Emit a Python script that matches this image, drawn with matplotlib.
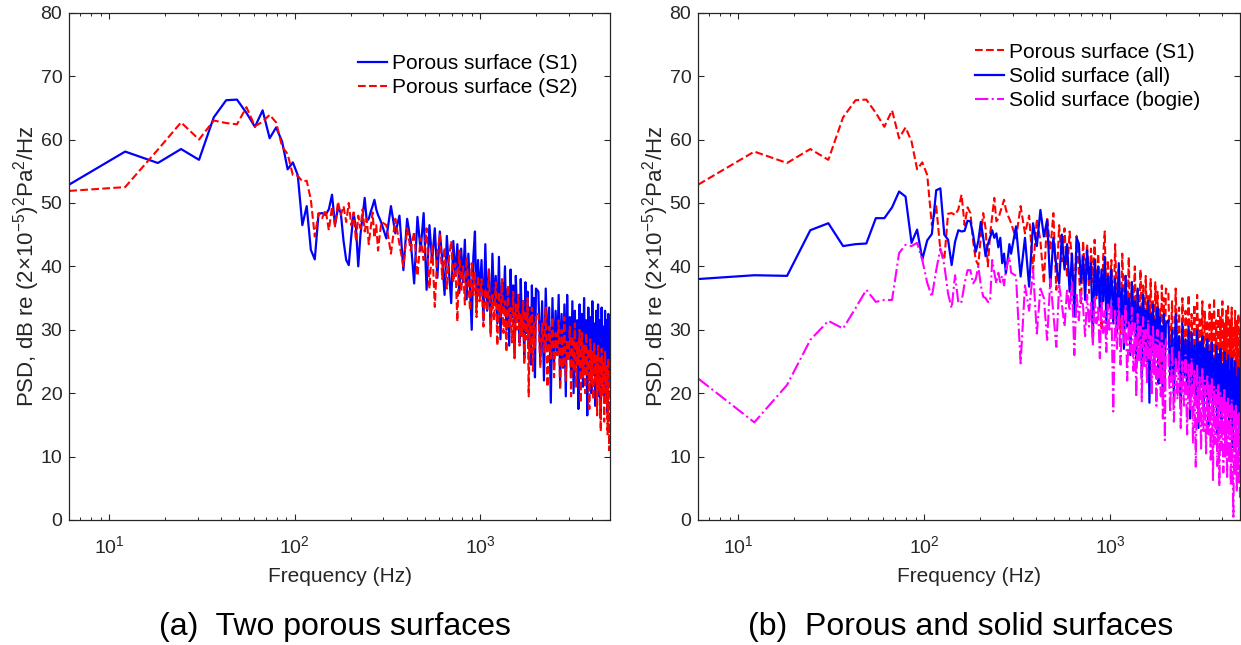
import numpy as np
import matplotlib
matplotlib.use('Agg')
import matplotlib.pyplot as plt

plt.rcParams['font.family'] = ['Liberation Sans', 'DejaVu Sans']
plt.rcParams['mathtext.default'] = 'regular'

DF = 6.1035  # frequency resolution, Hz

# FFT bins: every bin up to ~300 Hz, thinned above that
bins = np.r_[1:49, 51:163:3, 166:327:4, 336:817:8]
freq = bins * DF

# PSD values (dB)
porous_s1 = [
    # bins 1-48
    52.9, 58.1, 56.3, 58.5, 56.8, 63.5, 66.2, 66.3, 64.2, 62.0,
    64.6, 60.2, 61.9, 59.7, 55.3, 56.4, 54.4, 46.5, 49.5, 42.6,
    41.1, 48.3, 48.4, 48.1, 49.0, 51.3, 46.5, 49.3, 48.4, 44.0,
    41.0, 40.2, 44.7, 48.4, 46.0, 40.0, 45.0, 48.0, 50.8, 47.1,
    47.5, 48.6, 49.5, 50.5, 49.0, 48.1, 47.5, 46.8,
    # 311-990 Hz
    44.4, 49.5, 45.2, 48.0, 39.4, 47.5, 44.0, 37.3, 47.8, 42.5,
    48.4, 36.3, 46.5, 40.8, 46.0, 38.2, 45.5, 41.0, 35.5, 44.8,
    39.0, 34.2, 44.0, 38.5, 43.5, 35.8, 42.8, 37.5, 44.2, 34.8,
    42.0, 36.5, 30.0, 41.5, 45.5, 33.5, 41.0, 35.5,
    # 1-2 kHz
    41.0, 31.5, 43.5, 33.0, 39.5, 29.5, 42.0, 34.0, 38.5, 31.0,
    41.5, 28.5, 37.5, 33.5, 40.0, 30.0, 36.5, 27.5, 39.5, 32.0,
    37.0, 26.0, 38.5, 31.5, 35.5, 28.0, 38.0, 30.5, 34.5, 25.5,
    37.5, 29.5, 36.0, 27.0, 33.5, 24.5, 37.0, 29.0, 35.0, 22.5,
    36.5,
    # 2-5 kHz
    36.0, 25.0, 34.5, 22.0, 36.5, 27.0, 33.5, 18.5, 35.0, 24.5,
    33.0, 26.0, 35.5, 21.5, 32.5, 24.0, 34.0, 19.5, 35.5, 25.5,
    32.0, 22.5, 34.5, 20.0, 33.0, 24.5, 31.5, 17.5, 34.0, 23.0,
    32.5, 21.0, 35.0, 24.0, 31.5, 16.5, 33.5, 22.0, 32.0, 20.0,
    34.5, 23.5, 31.0, 18.0, 33.0, 21.5, 34.0, 19.5, 31.5, 16.0,
    33.5, 22.5, 30.5, 18.5, 33.0, 20.5, 31.5, 17.0, 32.5, 21.0,
    29.5,
]

porous_s2 = [
    51.9, 52.5, 58.4, 62.7, 60.0, 63.0, 62.6, 62.4, 65.1, 62.1,
    62.8, 63.9, 62.7, 58.9, 57.7, 54.4, 54.3, 53.4, 53.5, 50.5,
    44.7, 48.4, 47.6, 48.9, 45.7, 49.4, 46.3, 50.2, 48.1, 49.5,
    47.0, 50.0, 46.5, 48.5, 44.0, 48.0, 46.0, 49.0, 45.5, 47.5,
    43.5, 46.0, 48.5, 44.5, 46.5, 42.5, 45.0, 47.0,
    46.5, 42.0, 47.5, 43.5, 40.0, 46.0, 42.5, 45.5, 38.5, 44.5,
    41.0, 46.0, 36.5, 43.5, 33.6, 42.0, 45.0, 38.0, 43.0, 36.5,
    41.5, 44.0, 37.5, 40.5, 31.3, 42.5, 36.0, 40.0, 34.0, 41.5,
    37.5, 33.0, 40.5, 35.5, 39.0, 32.0, 38.5, 34.5,
    38.0, 30.5, 36.5, 33.0, 39.5, 29.0, 35.5, 31.5, 37.5, 27.5,
    36.0, 32.0, 38.0, 29.5, 34.5, 26.5, 37.0, 30.5, 33.5, 28.0,
    36.0, 25.5, 34.0, 30.0, 35.5, 27.5, 32.5, 29.0, 34.5, 24.5,
    33.0, 28.5, 35.0, 19.5, 32.0, 26.5, 33.5, 23.5, 31.0, 27.0,
    32.5,
    32.5, 24.0, 31.0, 26.5, 33.5, 21.0, 30.5, 25.5, 32.0, 22.5,
    29.5, 26.0, 31.5, 20.5, 30.0, 24.0, 32.0, 22.0, 28.5, 25.0,
    30.5, 19.5, 29.0, 23.5, 31.0, 21.0, 28.0, 24.5, 30.0, 18.5,
    29.5, 22.5, 27.5, 20.0, 29.5, 23.0, 27.0, 17.5, 28.5, 21.5,
    26.5, 19.0, 28.0, 22.0, 26.0, 16.5, 27.5, 20.5, 25.5, 14.0,
    27.0, 19.5, 25.0, 15.5, 26.5, 18.5, 24.5, 13.5, 25.5, 11.0,
    23.0,
]

solid_all = [
    38.0, 38.6, 38.5, 45.7, 46.8, 43.2, 43.5, 43.6, 47.6, 47.6,
    49.3, 51.8, 51.0, 43.7, 45.8, 41.1, 44.1, 45.1, 52.0, 52.3,
    45.0, 44.2, 40.2, 43.9, 45.7, 45.5, 45.6, 47.2, 47.1, 45.0,
    42.3, 44.0, 47.0, 44.5, 41.6, 43.5, 44.5, 45.7, 44.5, 45.2,
    43.0, 44.5, 40.5, 42.0, 38.9, 41.0, 43.5, 42.0,
    46.3, 38.4, 44.5, 36.8, 46.8, 43.2, 48.9, 44.7, 47.3, 36.8,
    44.5, 40.0, 37.3, 45.0, 39.5, 43.5, 36.0, 42.0, 32.1, 44.5,
    43.6, 37.5, 41.5, 34.7, 42.5, 38.0, 40.5, 28.4, 41.0, 35.5,
    40.0, 33.0, 39.5, 34.5, 41.5, 31.0, 38.5, 33.5,
    39.5, 31.0, 38.0, 29.5, 40.5, 32.0, 36.5, 27.0, 38.5, 30.5,
    35.0, 26.0, 37.5, 30.0, 34.5, 24.5, 36.5, 28.5, 33.5, 22.5,
    35.5, 27.5, 33.0, 25.0, 34.5, 18.5, 32.5, 26.5, 34.0, 23.5,
    31.5, 27.0, 33.5, 21.5, 32.0, 25.5, 30.5, 20.0, 32.5, 24.5,
    31.0,
    31.5, 22.0, 30.0, 19.5, 32.5, 24.0, 29.0, 17.5, 31.0, 22.5,
    28.5, 20.0, 30.5, 16.0, 29.5, 21.5, 27.5, 18.5, 30.0, 14.5,
    28.0, 21.0, 29.0, 17.0, 27.0, 19.5, 28.5, 15.0, 26.5, 20.5,
    28.0, 16.5, 25.5, 19.0, 27.5, 13.5, 26.0, 18.0, 27.0, 15.5,
    24.5, 18.5, 26.5, 12.5, 25.0, 17.0, 26.0, 14.5, 23.5, 17.5,
    25.5, 11.5, 24.0, 16.0, 25.0, 13.0, 22.5, 15.5, 24.0, 10.5,
    22.0,
]

solid_bogie = [
    22.3, 15.4, 21.3, 28.4, 31.4, 30.2, 33.4, 36.3, 34.4, 34.7,
    34.7, 42.1, 43.4, 43.2, 43.7, 41.0, 37.4, 35.2, 39.4, 42.8,
    40.2, 35.7, 33.4, 38.6, 34.2, 34.4, 37.3, 39.4, 39.4, 37.3,
    38.0, 40.0, 37.0, 35.2, 35.0, 34.4, 34.4, 41.0, 39.0, 37.3,
    39.0, 37.5, 38.5, 37.0, 39.5, 40.5, 41.5, 39.0,
    38.5, 24.7, 37.0, 33.0, 39.5, 29.4, 36.5, 35.0, 28.4, 38.0,
    32.5, 27.3, 37.0, 34.0, 30.5, 36.5, 33.0, 37.5, 26.0, 35.5,
    31.5, 36.0, 33.6, 29.0, 35.5, 30.5, 34.5, 27.5, 35.0, 31.0,
    33.5, 25.5, 34.5, 29.5, 33.0, 26.5, 34.0, 30.0,
    34.5, 17.1, 33.0, 27.0, 35.0, 24.5, 32.5, 28.0, 34.0, 22.0,
    31.5, 26.5, 33.5, 23.5, 31.0, 19.4, 32.5, 25.0, 30.5, 18.7,
    32.0, 24.0, 30.0, 21.5, 31.5, 25.5, 29.0, 20.0, 30.5, 23.0,
    28.5, 18.0, 30.0, 22.5, 28.0, 19.5, 29.5, 16.0, 27.5, 12.6,
    28.5,
    26.5, 17.0, 27.5, 15.5, 25.5, 19.0, 26.5, 14.5, 25.0, 18.0,
    26.0, 13.5, 24.5, 17.5, 25.5, 12.0, 23.5, 8.4, 24.5, 15.5,
    22.5, 11.0, 24.0, 14.0, 22.0, 10.5, 23.0, 13.5, 21.5, 9.5,
    22.5, 6.3, 21.0, 12.0, 20.5, 8.5, 21.5, 5.3, 20.0, 11.0,
    19.5, 7.5, 20.5, 10.0, 18.5, 6.5, 19.5, 9.0, 18.0, 5.5,
    19.0, 8.0, 0.5, 17.5, 7.0, 18.0, 4.5, 16.5, 6.0, 17.0,
    3.5,
]

GREY = '#262626'


def style_axes(ax):
    ax.set_xscale('log')
    ax.set_xlim(DF, 816 * DF)
    ax.set_ylim(0, 80)
    ax.set_yticks(range(0, 81, 10))
    ax.tick_params(which='both', direction='in', top=True, right=True,
                   colors=GREY, labelsize=14)
    ax.tick_params(axis='x', pad=11)
    ax.tick_params(axis='y', pad=5)
    ax.tick_params(which='major', length=4, width=0.8)
    ax.tick_params(which='minor', length=2, width=0.7)
    for side in ax.spines.values():
        side.set_color(GREY)
        side.set_linewidth(0.9)
    ax.set_xlabel('Frequency (Hz)', fontsize=15, color=GREY, labelpad=7)
    ax.set_ylabel('PSD, dB re (2\u00d710$^{-5}$)$^2$Pa$^2$/Hz',
                  fontsize=16, color=GREY, labelpad=-1)


fig = plt.figure(figsize=(12.41, 6.45), dpi=100)
ax1 = fig.add_axes([0.0558, 0.1938, 0.4357, 0.7865])
ax2 = fig.add_axes([0.5627, 0.1938, 0.4365, 0.7865])

ax1.plot(freq, porous_s1, '-', color='#0000ff', lw=1.6,
         label='Porous surface (S1)')
ax1.plot(freq, porous_s2, '--', color='#ff0000', lw=1.5,
         label='Porous surface (S2)')
style_axes(ax1)
ax1.legend(loc='upper right', bbox_to_anchor=(0.975, 0.955), frameon=False,
           fontsize=15, handlelength=1.4, handletextpad=0.25,
           labelspacing=0.25)

ax2.plot(freq, porous_s1, '--', color='#ff0000', lw=1.5,
         label='Porous surface (S1)')
ax2.plot(freq, solid_all, '-', color='#0000ff', lw=1.6,
         label='Solid surface (all)')
ax2.plot(freq, solid_bogie, '-.', color='#ff00ff', lw=1.5,
         label='Solid surface (bogie)')
style_axes(ax2)
ax2.legend(loc='upper right', bbox_to_anchor=(0.962, 0.978), frameon=False,
           fontsize=15, handlelength=1.4, handletextpad=0.25,
           labelspacing=0.25)

fig.text(0.27, 0.016, '(a)  Two porous surfaces', fontsize=23,
         ha='center', va='baseline')
fig.text(0.774, 0.016, '(b)  Porous and solid surfaces', fontsize=23,
         ha='center', va='baseline')

fig.savefig('out.png', dpi=100)
